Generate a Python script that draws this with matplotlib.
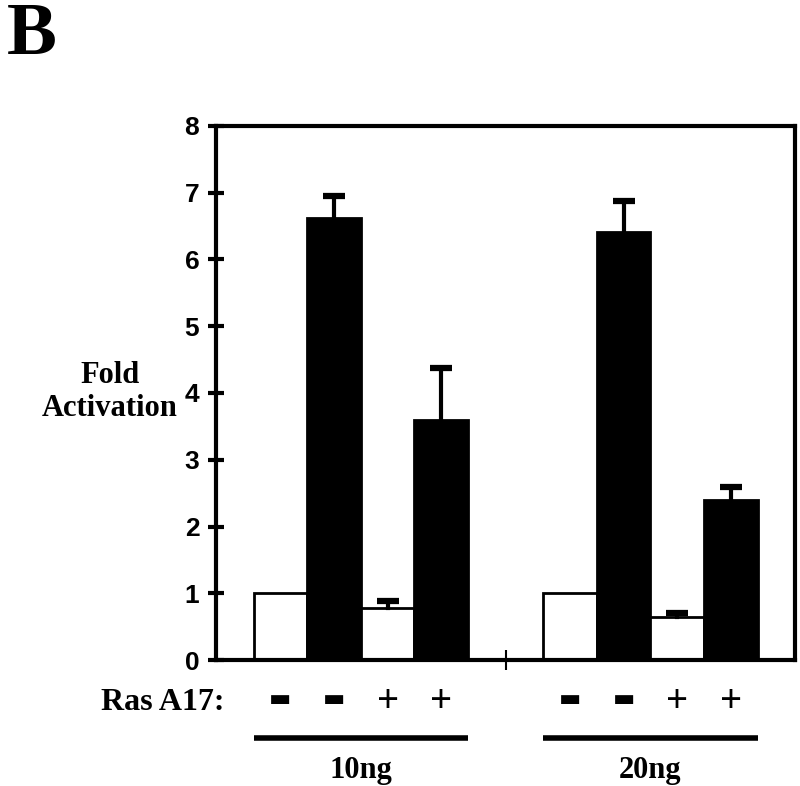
import matplotlib
matplotlib.use("Agg")
import matplotlib.pyplot as plt
import matplotlib.transforms as mtransforms

# data
positions = [1.2, 2.2, 3.2, 4.2, 6.6, 7.6, 8.6, 9.6]
values = [1.0, 6.62, 0.78, 3.6, 1.0, 6.41, 0.65, 2.4]
errors = [0.0, 0.33, 0.10, 0.78, 0.0, 0.46, 0.05, 0.20]
fills = ["white", "black", "white", "black", "white", "black", "white", "black"]
ras_signs = ["-", "-", "+", "+", "-", "-", "+", "+"]
groups = ["10ng", "20ng"]
yticks = [0, 1, 2, 3, 4, 5, 6, 7, 8]

serif = "Liberation Serif"
sans = "Liberation Sans"

fig = plt.figure(figsize=(8, 7.86), dpi=100)
ax = fig.add_axes([0.270, 0.160, 0.724, 0.680])

ax.bar(positions, values, width=1.0, color=fills, edgecolor="black", linewidth=2, zorder=2)
for x, v, e in zip(positions, values, errors):
    if e > 0:
        ax.plot([x, x], [v, v + e], color="black", linewidth=3, zorder=3)
        ax.plot(x, v + e, marker="_", markersize=16, markeredgewidth=4.5,
                color="black", zorder=3)

ax.set_xlim(0, 10.8)
ax.set_ylim(0, 8)
ax.set_yticks(yticks)
ax.set_yticklabels([str(t) for t in yticks], fontfamily=sans, fontweight="bold", fontsize=19)
ax.set_xticks([5.4])
ax.set_xticklabels([""])
ax.tick_params(axis="y", direction="inout", length=12, width=3, pad=6)
ax.tick_params(axis="x", direction="inout", length=14, width=1.5)
for s in ax.spines.values():
    s.set_linewidth(3)

ax.text(-0.183, 0.502, "Fold\nActivation", transform=ax.transAxes, ha="center", va="center",
        fontfamily=serif, fontweight="bold", fontsize=22, linespacing=1.15)
fig.text(0.008, 0.998, "B", ha="left", va="top", fontfamily=serif, fontweight="bold", fontsize=54)

trans = mtransforms.blended_transform_factory(ax.transData, ax.transAxes)
ax.text(0.014, -0.079, "Ras A17:", transform=ax.transAxes, ha="right", va="center",
        fontfamily=serif, fontweight="bold", fontsize=23)
for x, s in zip(positions, ras_signs):
    if s == "-":
        ax.text(x, -0.073, "\u25ac", transform=trans, ha="center", va="center",
                fontfamily="DejaVu Sans", fontsize=17, clip_on=False)
    else:
        ax.text(x, -0.079, "+", transform=trans, ha="center", va="center",
                fontfamily=serif, fontweight="bold", fontsize=28, clip_on=False)

for i, g in enumerate(groups):
    xs = positions[i * 4:(i + 1) * 4]
    ax.plot([xs[0] - 0.5, xs[-1] + 0.5], [-0.146, -0.146], transform=trans,
            color="black", linewidth=4, clip_on=False, solid_capstyle="butt")
    ax.text((xs[0] + xs[-1]) / 2, -0.206, g, transform=trans, ha="center", va="center",
            fontfamily=serif, fontweight="bold", fontsize=22)

fig.savefig("out.png", dpi=100)
